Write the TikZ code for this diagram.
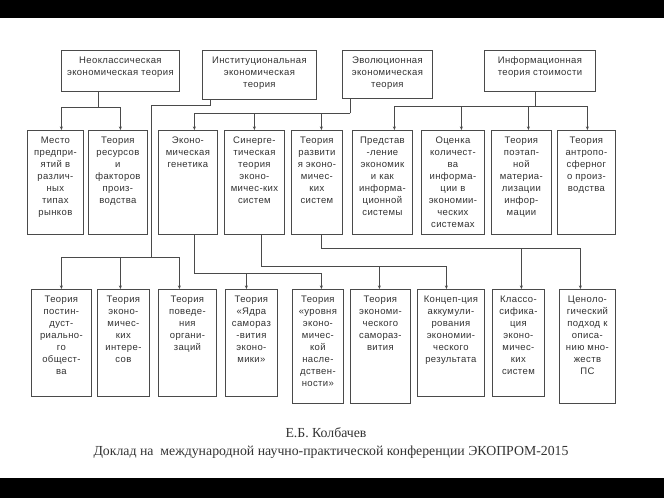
\documentclass[tikz,border=0pt]{standalone}
\usepackage{fontspec}
\setmainfont{Liberation Sans}[LetterSpace=4]
\newfontfamily\captfont{Liberation Serif}
\usetikzlibrary{arrows.meta}
\definecolor{linegray}{HTML}{4A4A4A}
\definecolor{textgray}{HTML}{333333}

\begin{document}
\begin{tikzpicture}[x=1pt, y=-1pt,
    cell/.style={draw=linegray, line width=0.8pt, anchor=north west, inner sep=0pt},
    txt/.style={anchor=north, align=center, yshift=-6.5pt, inner sep=0pt,
        text=textgray, font=\fontsize{9.5}{12}\selectfont},
    link/.style={draw=linegray, line width=0.7pt},
    arr/.style={link, -{Stealth[length=3.5pt, width=3pt]}},
    capt/.style={text=textgray, inner sep=0pt, font=\captfont\fontsize{13.8}{15}\selectfont}]

    % frame and black bands
    \useasboundingbox (0,0) rectangle (664,498);
    \fill[white] (0,0) rectangle (664,498);
    \fill[black] (0,0) rectangle (664,18);
    \fill[black] (0,478) rectangle (664,498);

    % Schools of thought
    \node[cell, minimum width=118pt, minimum height=41pt,
        label={[txt]north:Неоклассическая\\экономическая теория}] (A) at (61,50) {};
    \node[cell, minimum width=114pt, minimum height=49pt,
        label={[txt]north:Институциональная\\экономическая\\теория}] (B) at (202,50) {};
    \node[cell, minimum width=90pt, minimum height=48pt,
        label={[txt]north:Эволюционная\\экономическая\\теория}] (C) at (342,50) {};
    \node[cell, minimum width=111pt, minimum height=41pt,
        label={[txt]north:Информационная\\теория стоимости}] (D) at (484,50) {};

    % Second row
    \node[cell, minimum width=56pt, minimum height=104pt,
        label={[txt]north:Место\\предпри-\\ятий в\\различ-\\ных\\типах\\рынков}] (m1) at (27,130) {};
    \node[cell, minimum width=59pt, minimum height=104pt,
        label={[txt]north:Теория\\ресурсов\\и\\факторов\\произ-\\водства}] (m2) at (88,130) {};
    \node[cell, minimum width=59pt, minimum height=104pt,
        label={[txt]north:Эконо-\\мическая\\генетика}] (m3) at (158,130) {};
    \node[cell, minimum width=60pt, minimum height=104pt,
        label={[txt]north:Синерге-\\тическая\\теория\\эконо-\\мичес-ких\\систем}] (m4) at (224,130) {};
    \node[cell, minimum width=51pt, minimum height=104pt,
        label={[txt]north:Теория\\развити\\я эконо-\\мичес-\\ких\\систем}] (m5) at (291,130) {};
    \node[cell, minimum width=60pt, minimum height=104pt,
        label={[txt]north:Представ\\-ление\\экономик\\и как\\информа-\\ционной\\системы}] (m6) at (352,130) {};
    \node[cell, minimum width=63pt, minimum height=104pt,
        label={[txt]north:Оценка\\количест-\\ва\\информа-\\ции в\\экономии-\\ческих\\системах}] (m7) at (421,130) {};
    \node[cell, minimum width=60pt, minimum height=104pt,
        label={[txt]north:Теория\\поэтап-\\ной\\материа-\\лизации\\инфор-\\мации}] (m8) at (491,130) {};
    \node[cell, minimum width=58pt, minimum height=104pt,
        label={[txt]north:Теория\\антропо-\\сферног\\о произ-\\водства}] (m9) at (557,130) {};

    % Third row
    \node[cell, minimum width=60pt, minimum height=107pt,
        label={[txt]north:Теория\\постин-\\дуст-\\риально-\\го\\общест-\\ва}] (b1) at (31,289) {};
    \node[cell, minimum width=52pt, minimum height=107pt,
        label={[txt]north:Теория\\эконо-\\мичес-\\ких\\интере-\\сов}] (b2) at (97,289) {};
    \node[cell, minimum width=58pt, minimum height=107pt,
        label={[txt]north:Теория\\поведе-\\ния\\органи-\\заций}] (b3) at (158,289) {};
    \node[cell, minimum width=52pt, minimum height=107pt,
        label={[txt]north:Теория\\«Ядра\\самораз\\-вития\\эконо-\\мики»}] (b4) at (225,289) {};
    \node[cell, minimum width=51pt, minimum height=114pt,
        label={[txt]north:Теория\\«уровня\\эконо-\\мичес-\\кой\\насле-\\дствен-\\ности»}] (b5) at (292,289) {};
    \node[cell, minimum width=60pt, minimum height=114pt,
        label={[txt]north:Теория\\экономи-\\ческого\\самораз-\\вития}] (b6) at (350,289) {};
    \node[cell, minimum width=67pt, minimum height=107pt,
        label={[txt]north:Концеп-ция\\аккумули-\\рования\\экономии-\\ческого\\результата}] (b7) at (417,289) {};
    \node[cell, minimum width=52pt, minimum height=107pt,
        label={[txt]north:Классо-\\сифика-\\ция\\эконо-\\мичес-\\ких\\систем}] (b8) at (492,289) {};
    \node[cell, minimum width=56pt, minimum height=114pt,
        label={[txt]north:Ценоло-\\гический\\подход к\\описа-\\нию мно-\\жеств\\ПС}] (b9) at (559,289) {};

    % Junctions of the connectors
    \coordinate (jA) at (98,107);
    \coordinate (jB) at (210,105);
    \coordinate (jB2) at (151,257);
    \coordinate (jC) at (350,113);
    \coordinate (jD) at (535,106);
    \coordinate (jG) at (194,273);
    \coordinate (jS) at (261,266);
    \coordinate (jR) at (321,248);

    % Schools -> second row
    \draw[link] (A.south -| jA) -- (jA);
    \draw[arr] (jA) -| ([xshift=6pt]m1.north);
    \draw[arr] (jA) -| ([xshift=2.5pt]m2.north);

    \draw[link] (C.south -| jC) -- (jC);
    \draw[arr] (jC) -| ([xshift=6.5pt]m3.north);
    \draw[arr] (jC) -| (m4.north);
    \draw[arr] (jC) -| ([xshift=4.5pt]m5.north);

    \draw[link] (D.south -| jD) -- (jD);
    \draw[arr] (jD) -| ([xshift=12pt]m6.north);
    \draw[arr] (jD) -| ([xshift=8.5pt]m7.north);
    \draw[arr] (jD) -| ([xshift=7pt]m8.north);
    \draw[arr] (jD) -| ([xshift=1pt]m9.north);

    % Institutional -> third row
    \draw[link] (B.south -| jB) -- (jB) -| (jB2);
    \draw[arr] (jB2) -| (b1.north);
    \draw[arr] (jB2) -| ([xshift=-3pt]b2.north);
    \draw[arr] (jB2) -| ([xshift=-8pt]b3.north);

    % Second row -> third row
    \draw[link] (m3.south -| jG) -- (jG);
    \draw[arr] (jG) -| ([xshift=-5pt]b4.north);
    \draw[arr] (jG) -| ([xshift=3.5pt]b5.north);

    \draw[link] (m4.south -| jS) -- (jS);
    \draw[arr] (jS) -| ([xshift=-1pt]b6.north);
    \draw[arr] (jS) -| ([xshift=-4.5pt]b7.north);

    \draw[link] (m5.south -| jR) -- (jR);
    \draw[arr] (jR) -| ([xshift=3pt]b8.north);
    \draw[arr] (jR) -| ([xshift=-7pt]b9.north);

    % Caption
    \node[capt] (author) at (326,433) {Е.Б. Колбачев};
    \node[capt] (talk) at (331,452) {Доклад на\ \ международной научно-практической конференции ЭКОПРОМ-2015};
\end{tikzpicture}
\end{document}
